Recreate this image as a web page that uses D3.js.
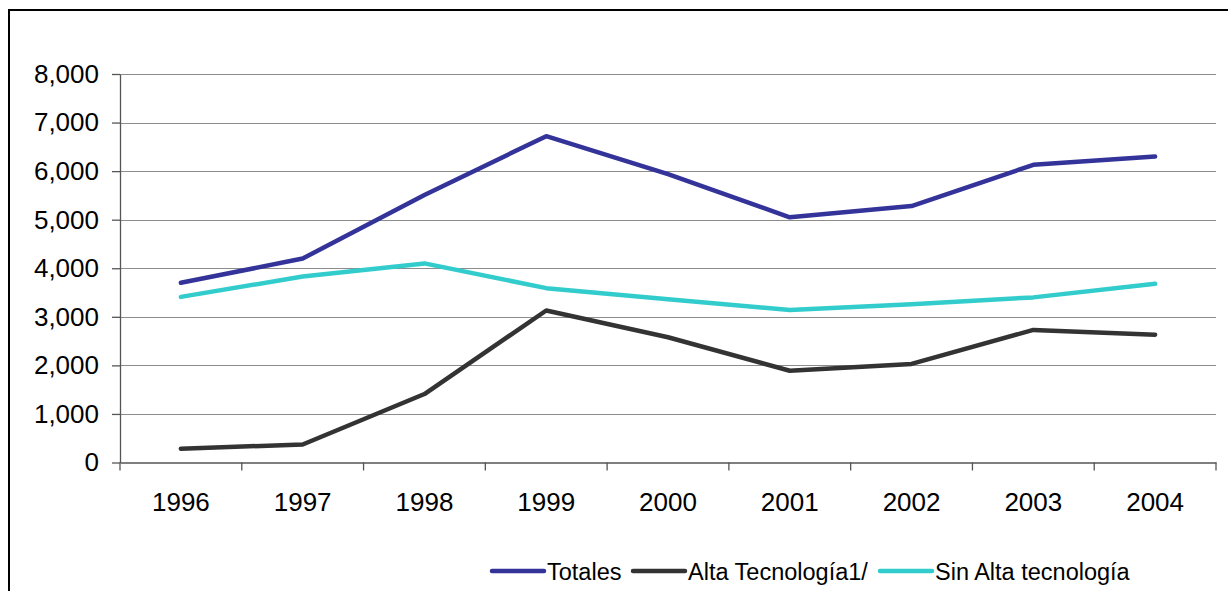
<!DOCTYPE html>
<html>
<head>
<meta charset="utf-8">
<script src="https://cdn.jsdelivr.net/npm/d3@7"></script>
<style>
  body { margin: 0; background: #fff; }
  svg { display: block; font-family: "Liberation Sans", Arial, sans-serif; }
</style>
</head>
<body>
<div id="wrapper"></div>
<script>
const years = ['1996', '1997', '1998', '1999', '2000', '2001', '2002', '2003', '2004']
const totales = [3700, 4200, 5510, 6720, 5940, 5050, 5280, 6130, 6300]
const altaTecnologia = [285, 370, 1410, 3130, 2580, 1890, 2030, 2730, 2630]
const sinAltaTecnologia = [3410, 3830, 4100, 3590, 3360, 3140, 3260, 3400, 3680]
const seriesNames = ['Totales', 'Alta Tecnología1/', 'Sin Alta tecnología']
const yTicks = [0, 1000, 2000, 3000, 4000, 5000, 6000, 7000, 8000]

const seriesColors = ['#333399', '#333333', '#33cccc']

function drawChart() {
  const series = [totales, altaTecnologia, sinAltaTecnologia].map((values, i) => ({
    name: seriesNames[i],
    color: seriesColors[i],
    values: values.map((v, j) => ({ year: years[j], value: v })),
  }))

  const xAccessor = d => d.year
  const yAccessor = d => d.value

  const dimensions = {
    width: 1228,
    height: 591,
    margins: {
      top: 74,
      right: 12,
      bottom: 128.5,
      left: 120,
    }
  }
  dimensions.boundedWidth = dimensions.width
    - dimensions.margins.left
    - dimensions.margins.right
  dimensions.boundedHeight = dimensions.height
    - dimensions.margins.top
    - dimensions.margins.bottom

  const wrapper = d3.select('#wrapper')
    .append('svg')
      .attr('width', dimensions.width)
      .attr('height', dimensions.height)

  // outer frame, runs off the right and bottom edges
  wrapper.append('rect')
      .attr('x', 9)
      .attr('y', 10)
      .attr('width', 1400)
      .attr('height', 800)
      .attr('fill', 'none')
      .attr('stroke', '#000')
      .attr('stroke-width', 2)

  const bounds = wrapper.append('g')
      .attr('transform', `translate(${dimensions.margins.left}, ${dimensions.margins.top})`)

  const xScale = d3.scaleBand()
      .domain(years)
      .range([0, dimensions.boundedWidth])

  const yScale = d3.scaleLinear()
      .domain([0, 8000])
      .range([dimensions.boundedHeight, 0])

  // gridlines
  bounds.append('g')
    .selectAll('line')
    .data(yTicks.filter(d => d > 0))
    .join('line')
      .attr('x1', 0)
      .attr('x2', dimensions.boundedWidth)
      .attr('y1', d => Math.round(yScale(d)) + 0.5)
      .attr('y2', d => Math.round(yScale(d)) + 0.5)
      .attr('stroke', '#8c8c8c')
      .attr('stroke-width', 1.2)

  // y axis
  const yAxisGenerator = d3.axisLeft(yScale)
      .tickValues(yTicks)
      .tickFormat(d3.format(','))
      .tickSize(8)
      .tickSizeOuter(0)
      .tickPadding(13)

  const yAxis = bounds.append('g')
      .call(yAxisGenerator)
  yAxis.select('.domain').attr('stroke', '#555').attr('stroke-width', 1.3)
  yAxis.selectAll('.tick line').attr('stroke', '#555').attr('stroke-width', 1.3)
  yAxis.selectAll('.tick text')
      .attr('font-size', 26)
      .attr('font-family', '"Liberation Sans", Arial, sans-serif')
      .attr('fill', '#000')

  // x axis
  const xAxisGenerator = d3.axisBottom(xScale)
      .tickSize(0)
      .tickPadding(30)

  const xAxis = bounds.append('g')
      .attr('transform', `translate(0, ${dimensions.boundedHeight})`)
      .call(xAxisGenerator)
  xAxis.select('.domain').attr('stroke', '#555').attr('stroke-width', 1.3)
  xAxis.selectAll('.tick text')
      .attr('font-size', 26)
      .attr('font-family', '"Liberation Sans", Arial, sans-serif')
      .attr('fill', '#000')

  // tick marks between categories
  const boundaries = years.map(y => xScale(y)).concat([dimensions.boundedWidth])
  xAxis.append('g')
    .selectAll('line')
    .data(boundaries)
    .join('line')
      .attr('x1', d => d)
      .attr('x2', d => d)
      .attr('y1', 0)
      .attr('y2', 8)
      .attr('stroke', '#555')
      .attr('stroke-width', 1.3)

  // lines
  const lineGenerator = d3.line()
      .x(d => xScale(xAccessor(d)) + xScale.bandwidth() / 2)
      .y(d => yScale(yAccessor(d)))

  bounds.append('g')
    .selectAll('path')
    .data(series)
    .join('path')
      .attr('d', d => lineGenerator(d.values))
      .attr('fill', 'none')
      .attr('stroke', d => d.color)
      .attr('stroke-width', 4.5)
      .attr('stroke-linecap', 'round')
      .attr('stroke-linejoin', 'round')

  // legend
  const legendX = [492, 633, 880]
  const legend = wrapper.append('g')
    .selectAll('g')
    .data(series)
    .join('g')
      .attr('transform', (d, i) => `translate(${legendX[i]}, 571)`)

  legend.append('line')
      .attr('x1', 0)
      .attr('x2', 52)
      .attr('stroke', d => d.color)
      .attr('stroke-width', 4.5)
      .attr('stroke-linecap', 'round')

  legend.append('text')
      .attr('x', 55)
      .attr('y', 9)
      .attr('font-size', 23.5)
      .attr('fill', '#000')
      .text(d => d.name)
}

drawChart()
</script>
</body>
</html>
